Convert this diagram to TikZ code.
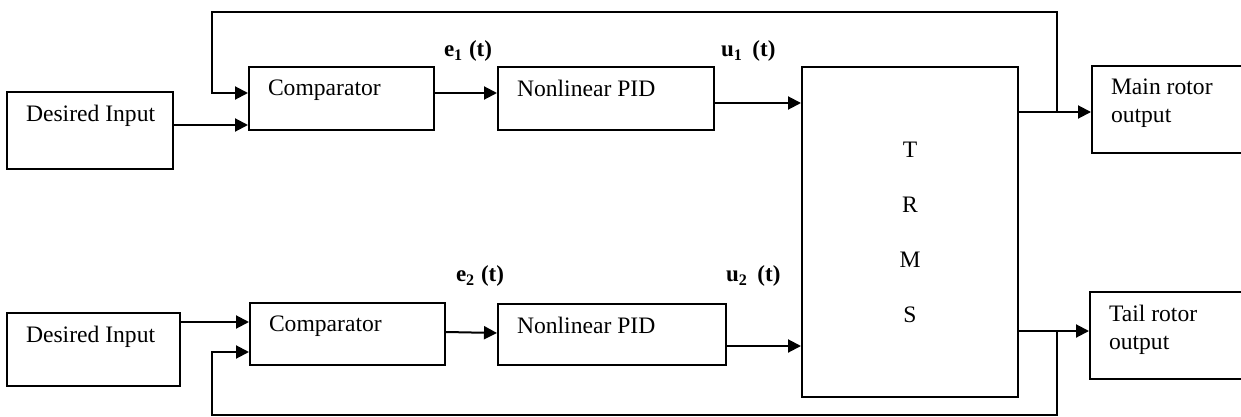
\documentclass[tikz,border=0pt]{standalone}
\usepackage{fontspec}
\setmainfont{Liberation Serif}
\usetikzlibrary{arrows.meta}
\tikzset{%
  >={Triangle[width=6.5pt,length=6.5pt]},
  % Specifications for style of nodes:
  base/.style = {
    rectangle,
    draw=black,
    line width=1pt,
    inner sep=0pt
  },
  inlbl/.style = {anchor=north west, inner sep=0pt, align=left,
                  xshift=9.5pt, yshift=-6.5pt},
  blk/.style = {base},
  plant/.style = {base, align=center},
  sig/.style = {anchor=west, inner sep=0pt, font=\fontsize{11.5pt}{14pt}\selectfont\bfseries},
}

\begin{document}
\begin{tikzpicture}[
  x=0.5pt, y=-0.5pt,
  line width=1pt,
  every node/.style={
    font=\fontsize{11.8pt}{14pt}\selectfont
  },]
  \useasboundingbox (0,0) rectangle (1241,417);
  % nodes
  \node (di1)  [blk, minimum width=83pt, minimum height=38.5pt,
    label={[inlbl]north west:Desired Input}] at (90,130.5) {};
  \node (cmp1) [blk, minimum width=92.5pt, minimum height=31.5pt,
    label={[inlbl]north west:Comparator}] at (341.5,98.5) {};
  \node (pid1) [blk, minimum width=108pt, minimum height=31.5pt,
    label={[inlbl]north west:Nonlinear PID}] at (606,98.5) {};
  \node (trms) [plant, minimum width=108pt, minimum height=165pt]
    at (910,232) {T\\[13.5pt]R\\[13.5pt]M\\[13.5pt]S};
  \node (mro)  [blk, minimum width=75.5pt, minimum height=43.5pt,
    label={[inlbl]north west:Main rotor\\output}] at (1167.5,109.5) {};
  \node (di2)  [blk, minimum width=86.5pt, minimum height=36.5pt,
    label={[inlbl]north west:Desired Input}] at (93.5,349.5) {};
  \node (cmp2) [blk, minimum width=97.5pt, minimum height=31pt,
    label={[inlbl]north west:Comparator}] at (347.5,334) {};
  \node (pid2) [blk, minimum width=114pt, minimum height=30.5pt,
    label={[inlbl]north west:Nonlinear PID}] at (612,334.5) {};
  \node (tro)  [blk, minimum width=76.5pt, minimum height=43.5pt,
    label={[inlbl]north west:Tail rotor\\output}] at (1166.5,335.5) {};
  % signal labels
  \node (e1) [sig] at (443,51)  {e\textsubscript{1} (t)};
  \node (u1) [sig] at (720,51)  {u\textsubscript{1}\, (t)};
  \node (e2) [sig] at (455,276) {e\textsubscript{2} (t)};
  \node (u2) [sig] at (725,276) {u\textsubscript{2}\, (t)};
  \coordinate (fb1) at (1057,112);
  \coordinate (fb2) at (1057,331);
  % lines
  \draw[->] (di1.east |- 0,125) -- (cmp1.west |- 0,125);
  \draw[->] (cmp1.east |- 0,93) -- (pid1.west |- 0,93);
  \draw[->] (pid1.east |- 0,103) -- (trms.west |- 0,103);
  \draw[->] (trms.east |- fb1) -- (mro.west |- fb1);
  \draw[->] (fb1) |- (212,12) |- (cmp1.west |- 0,93);
  \draw[->] (di2.east |- 0,322) -- (cmp2.west |- 0,322);
  \draw[->] (cmp2.east |- 0,332) -- (pid2.west |- 0,333);
  \draw[->] (pid2.east |- 0,346) -- (trms.west |- 0,346);
  \draw[->] (trms.east |- fb2) -- (tro.west |- fb2);
  \draw[->] (fb2) |- (212,415) |- (cmp2.west |- 0,352);
\end{tikzpicture}
\end{document}
